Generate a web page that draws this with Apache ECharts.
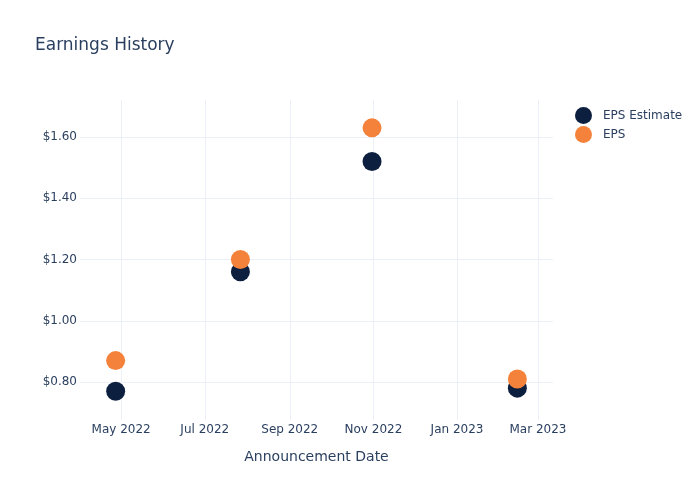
<!DOCTYPE html>
<html>
<head>
<meta charset="utf-8">
<script src="https://cdn.jsdelivr.net/npm/echarts@6/dist/echarts.min.js"></script>
<style>html,body{margin:0;padding:0;background:#fff}#c{width:700px;height:500px}</style>
</head>
<body>
<div id="c"></div>
<script>
const dates = ['2022-04-27', '2022-07-27', '2022-10-31', '2023-02-14'];
const epsEstimate = [0.77, 1.16, 1.52, 0.78];
const eps = [0.87, 1.20, 1.63, 0.81];
const monthNames = ['Jan','Feb','Mar','Apr','May','Jun','Jul','Aug','Sep','Oct','Nov','Dec'];

const FONT = 'DejaVu Sans';
const TXT = '#2a3f5f';
const GRID = '#ebf0f8';

const chart = echarts.init(document.getElementById('c'), null, {renderer: 'canvas'});
chart.setOption({
  animation: false,
  backgroundColor: '#fff',
  textStyle: {fontFamily: FONT},
  title: {
    text: 'Earnings History',
    left: 30, top: 32,
    textStyle: {fontFamily: FONT, fontSize: 17, fontWeight: 'normal', color: TXT}
  },
  legend: {
    orient: 'vertical',
    left: 570, top: 102,
    icon: 'circle',
    itemWidth: 17, itemHeight: 17, itemGap: 2,
    textStyle: {fontFamily: FONT, fontSize: 12, color: TXT, padding: [0, 0, 0, 6]},
    data: ['EPS Estimate', 'EPS']
  },
  grid: {left: 80, right: 147, top: 100, bottom: 80, containLabel: false},
  xAxis: {
    type: 'time',
    min: '2022-04-01',
    max: '2023-03-12',
    minInterval: 75 * 86400000,
    maxInterval: 80 * 86400000,
    name: 'Announcement Date',
    nameLocation: 'middle',
    nameGap: 30,
    nameTextStyle: {fontFamily: FONT, fontSize: 14, color: TXT},
    axisLine: {show: false},
    axisTick: {show: false},
    axisLabel: {
      margin: 4,
      fontFamily: FONT, fontSize: 12, color: TXT,
      hideOverlap: false,
      formatter: function (v) { const d = new Date(v); return monthNames[d.getMonth()] + ' ' + d.getFullYear(); }
    },
    splitLine: {show: true, showMinLine: false, showMaxLine: false, lineStyle: {color: GRID, width: 1}}
  },
  yAxis: {
    type: 'value',
    min: 0.676,
    max: 1.721,
    splitNumber: 5,
    axisLine: {show: false},
    axisTick: {show: false},
    axisLabel: {
      margin: 3,
      showMinLabel: false, showMaxLabel: false,
      fontFamily: FONT, fontSize: 12, color: TXT,
      formatter: function (v) { return '$' + v.toFixed(2); }
    },
    splitLine: {show: true, showMinLine: false, showMaxLine: false, lineStyle: {color: GRID, width: 1}}
  },
  series: [
    {
      name: 'EPS Estimate', type: 'scatter', symbolSize: 19,
      itemStyle: {color: '#0d1f3f', opacity: 1},
      data: dates.map((d, i) => [d, epsEstimate[i]])
    },
    {
      name: 'EPS', type: 'scatter', symbolSize: 19,
      itemStyle: {color: '#f5823a', opacity: 1},
      data: dates.map((d, i) => [d, eps[i]])
    }
  ]
});
</script>
</body>
</html>
